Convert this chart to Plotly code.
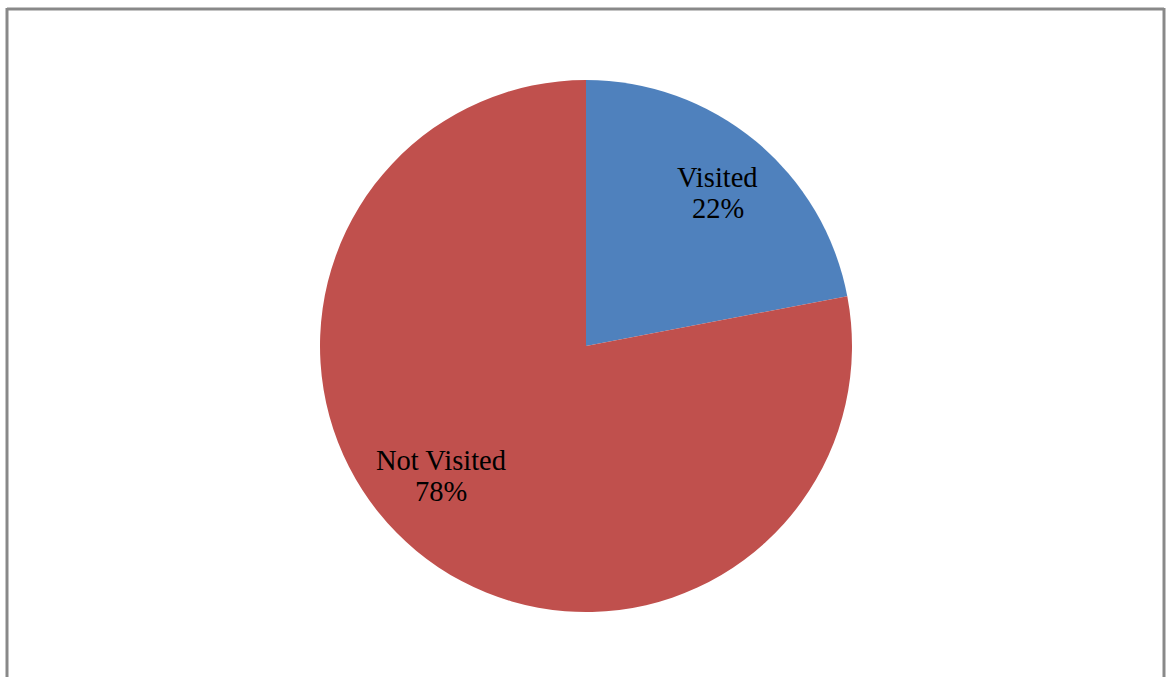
import math
import plotly.graph_objects as go

# Visit survey share
categories = ["Visited", "Not Visited"]
values = [22, 78]
colors = ["#4F81BD", "#C0504D"]

W, H = 1166, 677
cx, cy, r = 586, 346, 266  # pie centre and radius in pixels

fig = go.Figure(
    go.Pie(
        labels=categories,
        values=values,
        sort=False,
        direction="clockwise",
        rotation=0,
        marker=dict(colors=colors, line=dict(width=0)),
        textinfo="none",
        hoverinfo="label+percent",
        showlegend=False,
        domain=dict(
            x=[(cx - r) / W, (cx + r) / W],
            y=[1 - (cy + r) / H, 1 - (cy - r) / H],
        ),
    )
)

# Data labels placed inside each slice, around its mid-angle
total = sum(values)
angle_nudge = [1.0, 8.5]      # degrees, clockwise
radius_frac = [0.76, 0.73]
start = 0.0
annotations = []
for name, v, nudge, rf in zip(categories, values, angle_nudge, radius_frac):
    frac = v / total
    mid = (start + frac / 2) * 360 + nudge
    start += frac
    px = cx + rf * r * math.sin(math.radians(mid))
    py = cy - rf * r * math.cos(math.radians(mid))
    pct = f"{round(frac * 100)}%"
    for line, dy in ((name, -15.5), (pct, 15.5)):
        annotations.append(
            dict(
                x=px / W,
                y=1 - (py + dy) / H,
                xref="paper",
                yref="paper",
                text=line,
                showarrow=False,
                xanchor="center",
                yanchor="middle",
                font=dict(family="Liberation Serif", size=28.5, color="black"),
            )
        )

# Chart-area frame
frame = dict(color="#898989", width=3)
shapes = [
    dict(type="line", xref="paper", yref="paper",
         x0=7 / W, x1=1164 / W, y0=1 - 9 / H, y1=1 - 9 / H, line=frame),
    dict(type="line", xref="paper", yref="paper",
         x0=7 / W, x1=7 / W, y0=1 - 8 / H, y1=-0.01, line=frame),
    dict(type="line", xref="paper", yref="paper",
         x0=1164 / W, x1=1164 / W, y0=1 - 8 / H, y1=-0.01, line=frame),
]

fig.update_layout(
    width=W,
    height=H,
    margin=dict(l=0, r=0, t=0, b=0),
    paper_bgcolor="white",
    plot_bgcolor="white",
    annotations=annotations,
    shapes=shapes,
)

fig.write_html("out.html")
